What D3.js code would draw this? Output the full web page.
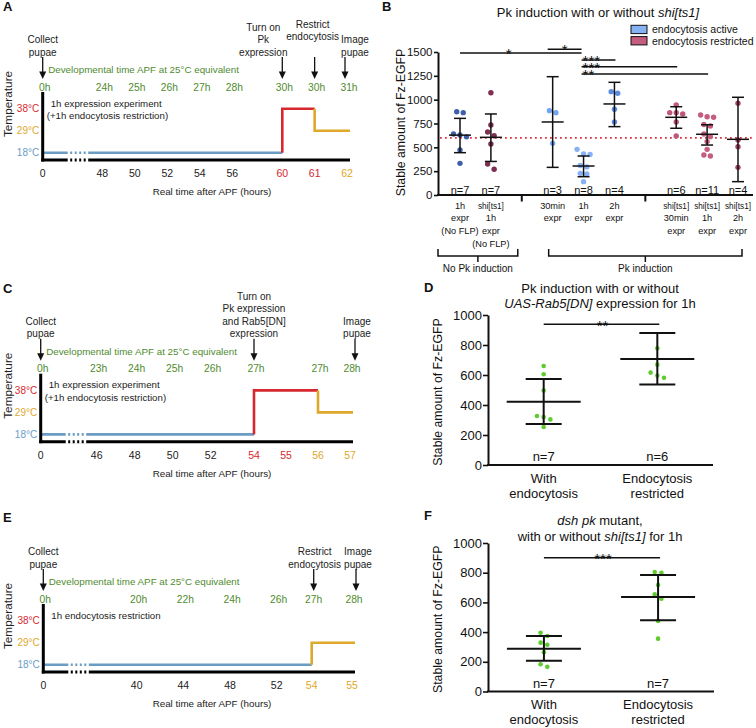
<!DOCTYPE html>
<html><head><meta charset="utf-8">
<script src="https://cdn.jsdelivr.net/npm/d3@7"></script>
<style>body{margin:0;background:#fff} svg{display:block} text{font-family:"Liberation Sans",Arial,Helvetica,sans-serif}</style>
</head><body><svg id="fig" width="756" height="728"></svg>
<script>
// ================= DATA =================
const temps = [18, 29, 38];
// Panel A
const aRealTicks = [0, 48, 50, 52, 54, 56, 60, 61, 62];
const aDevLabels = ["0h","24h","25h","26h","27h","28h","30h","30h","31h"];
const aStepTimes = [0, 60, 61, 62];
const aStepTemps = [18, 38, 29, 29];
const aEventTimes = [0, 60, 61, 62];
const aEventTexts = [["Collect","pupae"],["Turn on","Pk","expression"],["Restrict","endocytosis"],["Image","pupae"]];
const aNote = ["1h expression experiment","(+1h endocytosis restriction)"];
// Panel C
const cRealTicks = [0, 46, 48, 50, 52, 54, 55, 56, 57];
const cDevLabels = ["0h","23h","24h","25h","26h","27h","","27h","28h"];
const cStepTimes = [0, 54, 56, 57];
const cStepTemps = [18, 38, 29, 29];
const cEventTimes = [0, 54, 57];
const cEventTexts = [["Collect","pupae"],["Turn on","Pk expression","and Rab5[DN]","expression"],["Image","pupae"]];
const cNote = ["1h expression experiment","(+1h endocytosis restriction)"];
// Panel E
const eRealTicks = [0, 40, 44, 48, 52, 54, 55];
const eDevLabels = ["0h","20h","22h","24h","26h","27h","28h"];
const eStepTimes = [0, 54, 55];
const eStepTemps = [18, 29, 29];
const eEventTimes = [0, 54, 55];
const eEventTexts = [["Collect","pupae"],["Restrict","endocytosis"],["Image","pupae"]];
const eNote = ["1h endocytosis restriction"];

// Panel B
const bKeys = ["g1","g2","gap1","g3","g4","g5","gap2","g6","g7","g8"];
const bGroupKeys = ["g1","g2","g3","g4","g5","g6","g7","g8"];
const bLabels = [["1h","expr","(No FLP)"],["shi[ts1]","1h","expr","(No FLP)"],["30min","expr"],["1h","expr"],["2h","expr"],
  ["shi[ts1]","30min","expr"],["shi[ts1]","1h","expr"],["shi[ts1]","2h","expr"]];
const bN = [7, 7, 3, 8, 4, 6, 11, 4];
const bPoints = [
  [874, 864, 640, 630, 610, 472, 332],
  [1073, 734, 661, 622, 535, 325, 270],
  [885, 864, 542],
  [479, 430, 425, 310, 295, 227, 220, 140],
  [1084, 1067, 899, 766],
  [944, 864, 864, 850, 766, 619],
  [839, 821, 815, 740, 724, 640, 612, 560, 479, 420, 409],
  [962, 577, 507, 290]
];
const bMean = [628, 605, 766, 304, 955, 815, 637, 584];
const bErrLow = [444, 352, 290, 192, 717, 700, 524, 140];
const bErrHigh = [804, 850, 1241, 409, 1182, 926, 737, 1025];
const bYTicks = [0, 250, 500, 750, 1000, 1250, 1500];
const bThreshold = 600;
const bSigFrom = ["g1","g3","g4","g4","g4"];
const bSigTo = ["g4","g4","g5","g6","g7"];
const bSigLabel = ["*","*","***","***","**"];
const bSigLevel = [1490, 1530, 1415, 1345, 1270];
const bLegend = ["endocytosis active","endocytosis restricted"];
const bBrackets = ["No Pk induction","Pk induction"];

// Panel D
const dCats = ["With endocytosis","Endocytosis restricted"];
const dLabels = [["With","endocytosis"],["Endocytosis","restricted"]];
const dN = [7, 6];
const dPoints = [[660, 605, 496, 327, 320, 304, 253],[778, 669, 616, 596, 582]];
const dMean = [422, 707];
const dErrLow = [273, 536];
const dErrHigh = [573, 880];
const dSig = "**", dSigLevel = 938;
// Panel F
const fN = [7, 7];
const fPoints = [[396, 374, 329, 315, 264, 184, 166],[805, 800, 717, 654, 625, 475, 356]];
const fMean = [288, 636];
const fErrLow = [207, 480];
const fErrHigh = [374, 785];
const fSig = "***", fSigLevel = 901;
const dfYTicks = [0, 200, 400, 600, 800, 1000];

// ================= STYLE =================
const FONT = '"Liberation Sans", Arial, Helvetica, sans-serif';
const tempColor = {18:"#6b9cc3", 29:"#dea82b", 38:"#d7282f"};
const GREEN_TXT = "#4f8b2f";
const bColors = ["#3e5fa9","#7c2f50","#74a4ef","#86b2f4","#5d8de3","#c0587a","#c55e7e","#a64463"];
const DOT_GREEN = "#5ecb2e";

const svg = d3.select("#fig");
svg.append("rect").attr("width",756).attr("height",728).attr("fill","#fff");

function addText(parent, x, y, str, size, opt = {}) {
  const t = parent.append("text").attr("x", x).attr("y", y).attr("font-size", size)
    .attr("text-anchor", opt.anchor || "middle").attr("fill", opt.fill || "#111");
  if (opt.weight) t.attr("font-weight", opt.weight);
  if (Array.isArray(str)) {
    str.forEach(([s, it]) => t.append("tspan").text(s).attr("font-style", it ? "italic" : null));
  } else t.text(str);
  return t;
}

// ================= TIMELINES =================
function timeline(cfg) {
  const g = svg.append("g");
  const x = d3.scaleLinear().domain(cfg.domain).range(cfg.range);
  const ay = cfg.axisY;
  const yT = d3.scalePoint().domain(temps).range([ay - 7.3, ay - 51.3]);
  const x0 = x(0), xEnd = x(cfg.ticks[cfg.ticks.length - 1]) + 3;

  addText(g, 3, cfg.letterY, cfg.letter, 13, {anchor: "start", weight: "bold"});
  g.append("text").attr("transform", `translate(12,${ay - 56}) rotate(-90)`)
    .attr("text-anchor", "middle").attr("font-size", 11.8).attr("fill", "#222").text("Temperature");
  temps.forEach(t => addText(g, x0 - 3.5, yT(t) + 3.5, t + "°C", 10, {anchor: "end", fill: tempColor[t]}));

  // temperature profile
  const st = cfg.stepTimes, sv = cfg.stepTemps;
  for (let i = 0; i < st.length - 1; i++) {
    const p = d3.path();
    if (i === 0) p.moveTo(x(st[0]), yT(sv[0]));
    else { p.moveTo(x(st[i]), yT(sv[i - 1])); p.lineTo(x(st[i]), yT(sv[i])); }
    const xe = (i === st.length - 2) ? xEnd : x(st[i + 1]);
    p.lineTo(xe, yT(sv[i]));
    g.append("path").attr("d", p.toString()).attr("fill", "none")
      .attr("stroke", tempColor[sv[i]]).attr("stroke-width", 2.6);
  }
  // axes
  g.append("line").attr("x1", x0).attr("x2", x0).attr("y1", ay - 68).attr("y2", ay + 1.5)
    .attr("stroke", "#000").attr("stroke-width", 3);
  g.append("line").attr("x1", x0 - 1.5).attr("x2", xEnd).attr("y1", ay).attr("y2", ay)
    .attr("stroke", "#000").attr("stroke-width", 3);
  // break marks
  [ay, yT(18)].forEach(yy => g.append("line").attr("x1", x0 + 25).attr("x2", x0 + 47)
    .attr("y1", yy).attr("y2", yy).attr("stroke", "#fff").attr("stroke-width", 4)
    .attr("stroke-dasharray", "2.5,2"));
  // tick labels
  cfg.ticks.forEach((t, i) => addText(g, x(t), ay + 17.3, String(t), 10.5, {fill: cfg.tickColors[i]}));
  cfg.dev.forEach((d, i) => { if (d) addText(g, x(cfg.ticks[i]) + 2, ay - 69.3, d, 10.3, {fill: GREEN_TXT}); });
  addText(g, x0 + 5.5, ay - 87, "Developmental time APF at 25°C equivalent", 9.8, {anchor: "start", fill: GREEN_TXT});
  addText(g, 212, ay + 35.3, "Real time after APF (hours)", 9.8, {fill: "#222"});
  cfg.note.forEach((n, i) => addText(g, x0 + (i === 0 ? 8 : 4), ay - 53.5 + i * 12.8, n, 9.7, {anchor: "start", fill: "#222"}));
  // events
  cfg.eventTimes.forEach((t, i) => {
    const ex = x(t) + cfg.arrowDx[i];
    const lines = cfg.eventTexts[i];
    const n = lines.length;
    lines.forEach((l, j) => addText(g, x(t) + cfg.dx[i], ay - 104.3 + cfg.dy[i] - (n - 1 - j) * 12.6, l, 10, {fill: "#222"}));
    const top = ay - 103, bot = ay - 81;
    g.append("line").attr("x1", ex).attr("x2", ex).attr("y1", top).attr("y2", bot - 5)
      .attr("stroke", "#111").attr("stroke-width", 1.3);
    g.append("path").attr("d", `M${ex - 3.5},${bot - 7.5}L${ex + 3.5},${bot - 7.5}L${ex},${bot}Z`).attr("fill", "#111");
  });
}

const K = "#222", R = tempColor[38], O = tempColor[29];
timeline({letter: "A", letterY: 11, axisY: 160, domain: [0, 48, 56, 60, 62], range: [42.7, 102.3, 232.3, 282.3, 347],
  ticks: aRealTicks, dev: aDevLabels, tickColors: [K, K, K, K, K, K, R, R, O],
  stepTimes: aStepTimes, stepTemps: aStepTemps, note: aNote,
  eventTimes: aEventTimes, eventTexts: aEventTexts, dx: [0, -19, -2, 8], dy: [0, 0, -15.5, 0], arrowDx: [0, 0, 0, -2]});
timeline({letter: "C", letterY: 293, axisY: 441.7, domain: [0, 46, 52, 54, 57], range: [40.7, 96.7, 210.7, 254, 350],
  ticks: cRealTicks, dev: cDevLabels, tickColors: [K, K, K, K, K, R, R, O, O],
  stepTimes: cStepTimes, stepTemps: cStepTemps, note: cNote,
  eventTimes: cEventTimes, eventTexts: cEventTexts, dx: [0, 0, 7], dy: [0, 0, 0], arrowDx: [0, 0, 5]});
timeline({letter: "E", letterY: 522, axisY: 672, domain: [0, 40, 52, 54, 55], range: [43.3, 136.7, 276.7, 311.7, 352],
  ticks: eRealTicks, dev: eDevLabels, tickColors: [K, K, K, K, K, O, O],
  stepTimes: eStepTimes, stepTemps: eStepTemps, note: eNote,
  eventTimes: eEventTimes, eventTexts: eEventTexts, dx: [0, 3, 6], dy: [0, 0, 0], arrowDx: [0, 2, 4]});

// ================= SCATTER HELPERS =================
function swarm(values, y, spacing, thr) {
  const s = values.slice().sort((a, b) => b - a);
  const rows = [];
  s.forEach(v => {
    const r = rows[rows.length - 1];
    if (r && Math.abs(y(v) - y(r[0])) < thr) r.push(v); else rows.push([v]);
  });
  const out = [];
  rows.forEach(r => r.forEach((v, i) => out.push({v, dx: (i - (r.length - 1) / 2) * spacing})));
  return out;
}
function styleAxis(a, fs) {
  a.attr("font-family", FONT);
  a.select(".domain").attr("stroke", "#111").attr("stroke-width", 2);
  a.selectAll(".tick line").attr("stroke", "#111").attr("stroke-width", 1.6);
  a.selectAll(".tick text").attr("font-size", fs).attr("fill", "#111");
}
function errBar(g, x, y, mean, lo, hi, halfMean, halfCap, sw) {
  const L = (x1, y1, x2, y2) => g.append("line").attr("x1", x1).attr("y1", y1).attr("x2", x2).attr("y2", y2)
    .attr("stroke", "#111").attr("stroke-width", sw);
  L(x, y(lo), x, y(hi));
  L(x - halfCap, y(lo), x + halfCap, y(lo));
  L(x - halfCap, y(hi), x + halfCap, y(hi));
  L(x - halfMean, y(mean), x + halfMean, y(mean));
}

// ================= PANEL B =================
(function () {
  const g = svg.append("g");
  const yB = d3.scaleLinear().domain([0, 1500]).range([195, 52]);
  const xB = d3.scalePoint().domain(bKeys).range([460, 738]);
  addText(g, 382, 11, "B", 13, {anchor: "start", weight: "bold"});
  addText(g, 598, 16.5, [["Pk induction with or without ", false], ["shi[ts1]", true]], 13);
  // legend
  const legCol = [bColors[3], bColors[6]];
  bLegend.forEach((l, i) => {
    g.append("rect").attr("x", 631).attr("y", 25.3 + i * 11.3).attr("width", 16).attr("height", 8.3)
      .attr("fill", legCol[i]).attr("stroke", "#111").attr("stroke-width", 1);
    addText(g, 652, 33.2 + i * 11.3, l, 10.5, {anchor: "start"});
  });
  g.append("text").attr("transform", "translate(404.5,122.5) rotate(-90)").attr("text-anchor", "middle")
    .attr("font-size", 12.3).attr("fill", "#111").text("Stable amount of Fz-EGFP");
  g.append("g").attr("transform", "translate(438,0)")
    .call(d3.axisLeft(yB).tickValues(bYTicks).tickFormat(d3.format("d")).tickSize(4).tickSizeOuter(0).tickPadding(1.5))
    .call(a => styleAxis(a, 11.5));
  g.append("line").attr("x1", 437).attr("x2", 753).attr("y1", 195).attr("y2", 195).attr("stroke", "#111").attr("stroke-width", 2);
  ["gap1", "gap2"].forEach(k => g.append("line").attr("x1", xB(k)).attr("x2", xB(k)).attr("y1", 195).attr("y2", 201.5)
    .attr("stroke", "#111").attr("stroke-width", 2));
  g.append("line").attr("x1", 440).attr("x2", 753).attr("y1", yB(bThreshold)).attr("y2", yB(bThreshold))
    .attr("stroke", "#e0323e").attr("stroke-width", 1.7).attr("stroke-dasharray", "1.8,3.2");
  bGroupKeys.forEach((k, i) => {
    const cx = xB(k);
    swarm(bPoints[i], yB, 6.5, 5.6).forEach(p => g.append("circle").attr("cx", cx + p.dx).attr("cy", yB(p.v))
      .attr("r", 2.7).attr("fill", bColors[i]));
    errBar(g, cx, yB, bMean[i], bErrLow[i], bErrHigh[i], 11, 6, 1.5);
    addText(g, cx, 193.5, "n=" + bN[i], 11);
    bLabels[i].forEach((l, j) => {
      const small = l.startsWith("shi");
      addText(g, cx, 208.5 + j * 12.8, l, small ? 8.2 : 9.2);
    });
  });
  // brackets
  const br = [[438, xB("gap1") - 4], [xB("g3") - 4, xB("g8") + 4]];
  br.forEach(([a, b], i) => {
    const m = (a + b) / 2;
    g.append("path").attr("d", `M${a},249V256H${b}V249M${m},256V262`).attr("fill", "none")
      .attr("stroke", "#111").attr("stroke-width", 1.5);
    addText(g, m, 271.5, bBrackets[i], 10);
  });
  // significance
  const stack = g.append("text").attr("font-size", 15).attr("fill", "#111").attr("text-anchor", "start");
  bSigLabel.forEach((lab, i) => {
    const x1 = xB(bSigFrom[i]) + (i === 1 ? -5 : (i >= 2 ? -2 : 0)), x2 = xB(bSigTo[i]) + (i >= 2 ? 1 : -2);
    const yy = yB(bSigLevel[i]);
    g.append("line").attr("x1", x1).attr("x2", x2).attr("y1", yy).attr("y2", yy).attr("stroke", "#111").attr("stroke-width", 1.5);
    if (lab.length === 1) addText(g, i === 0 ? (x1 + x2) / 2 - 12 : (x1 + x2) / 2, yy + 6, lab, 15);
    else stack.append("tspan").attr("x", x1 + 1).attr("y", yy + 6).text(lab);
  });
})();

// ================= PANELS D & F =================
function dotPanel(cfg) {
  const g = svg.append("g");
  const y = d3.scaleLinear().domain([0, 1000]).range([cfg.y0, cfg.y1]);
  const x = d3.scalePoint().domain(dCats).range([488, cfg.xEnd]).padding(0.49);
  addText(g, 424, cfg.letterY, cfg.letter, 13, {anchor: "start", weight: "bold"});
  cfg.title.forEach((t, i) => addText(g, 600, cfg.titleY + i * 15.5, t, 13));
  g.append("text").attr("transform", `translate(441.5,${(cfg.y0 + cfg.y1) / 2 + 2}) rotate(-90)`).attr("text-anchor", "middle")
    .attr("font-size", 12.3).attr("fill", "#111").text("Stable amount of Fz-EGFP");
  g.append("g").attr("transform", "translate(488,0)")
    .call(d3.axisLeft(y).tickValues(dfYTicks).tickFormat(d3.format("d")).tickSize(5).tickSizeOuter(0).tickPadding(1))
    .call(a => styleAxis(a, 13));
  g.append("line").attr("x1", 487).attr("x2", cfg.xEnd).attr("y1", cfg.y0).attr("y2", cfg.y0).attr("stroke", "#111").attr("stroke-width", 2);
  dCats.forEach((c, i) => {
    const cx = x(c);
    swarm(cfg.points[i], y, 6.7, 5.6).forEach(p => g.append("circle").attr("cx", cx + p.dx).attr("cy", y(p.v))
      .attr("r", 2.3).attr("fill", DOT_GREEN));
    errBar(g, cx, y, cfg.mean[i], cfg.lo[i], cfg.hi[i], 37, 18, 2);
    addText(g, cx, cfg.y0 - 4, "n=" + cfg.n[i], 13);
    dLabels[i].forEach((l, j) => addText(g, cx, cfg.y0 + 17.5 + j * 15, l, 13));
  });
  const yy = y(cfg.sigLevel);
  g.append("line").attr("x1", x(dCats[0])).attr("x2", x(dCats[1]) + 2).attr("y1", yy).attr("y2", yy)
    .attr("stroke", "#111").attr("stroke-width", 1.6);
  addText(g, (x(dCats[0]) + x(dCats[1])) / 2 + 2, yy + 6.3, cfg.sig, 15);
}
dotPanel({letter: "D", letterY: 292, y0: 465, y1: 315, xEnd: 713, titleY: 292.5,
  title: ["Pk induction with or without", [["UAS-Rab5[DN]", true], [" expression for 1h", false]]],
  points: dPoints, mean: dMean, lo: dErrLow, hi: dErrHigh, n: dN, sig: dSig, sigLevel: dSigLevel});
dotPanel({letter: "F", letterY: 520, y0: 691.5, y1: 543, xEnd: 714, titleY: 525,
  title: [[["dsh pk", true], [" mutant,", false]], [["with or without ", false], ["shi[ts1]", true], [" for 1h", false]]],
  points: fPoints, mean: fMean, lo: fErrLow, hi: fErrHigh, n: fN, sig: fSig, sigLevel: fSigLevel});
</script></body></html>
